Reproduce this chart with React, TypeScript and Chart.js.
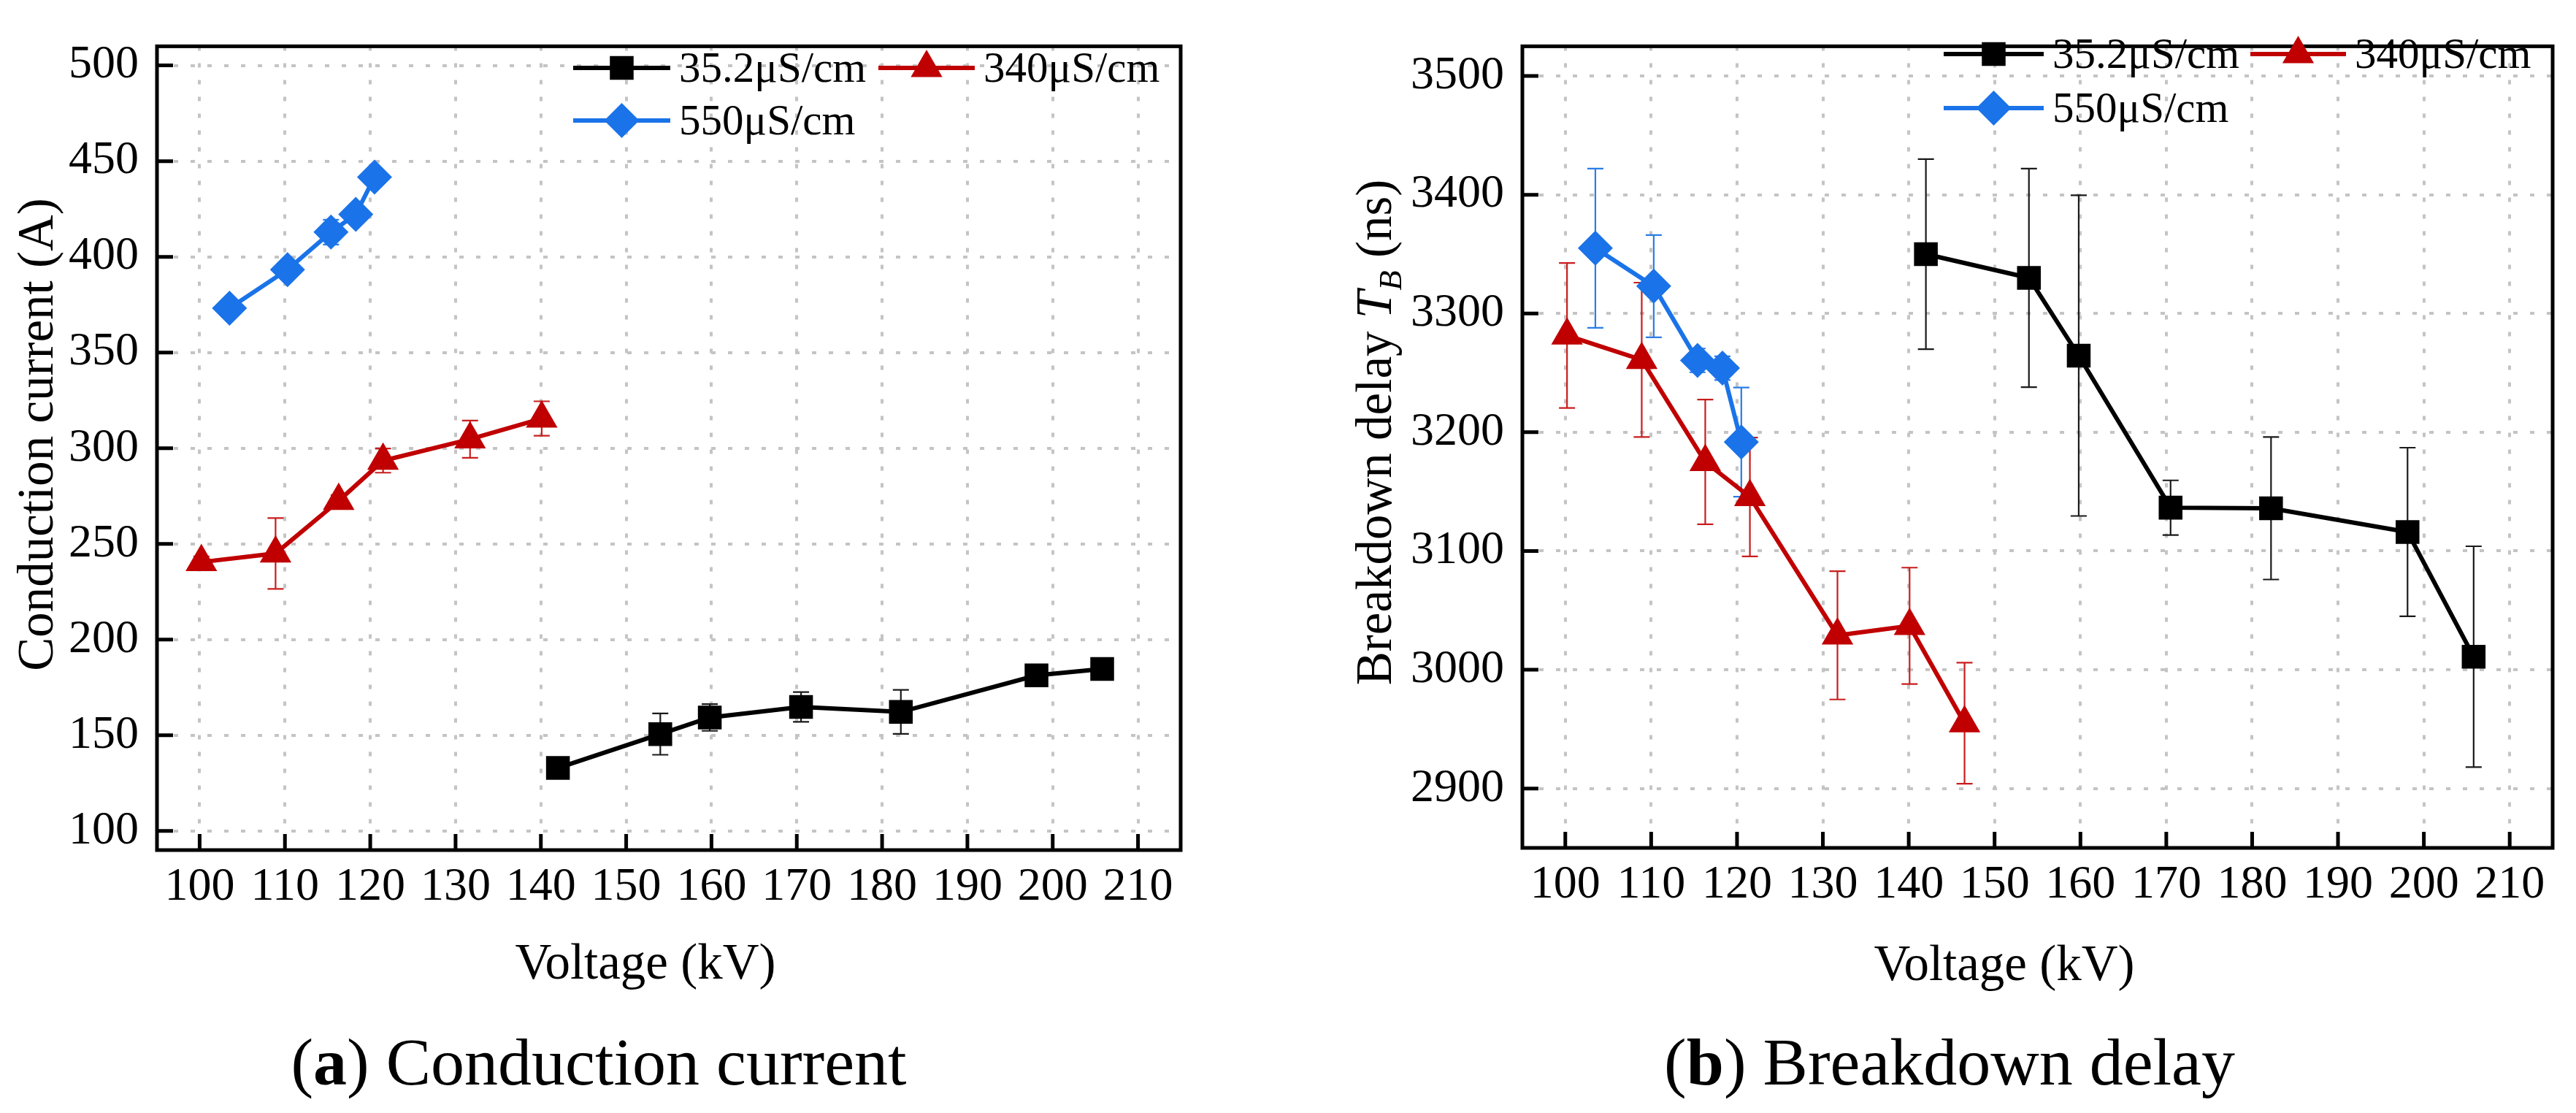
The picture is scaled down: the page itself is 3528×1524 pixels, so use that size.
import { useEffect, useRef } from "react"
import { Chart, registerables } from "chart.js"
import { drawPoint } from "chart.js/helpers"

Chart.register(...registerables)

const FONT = '"Liberation Serif", "Times New Roman", serif'
const GRID = "#c4c4c4"

// Voltage (kV) of each measured point
const volt35 = [142, 154, 159.8, 170.5, 182.2, 198.1, 205.8]
const volt340 = [100.2, 108.9, 116.3, 121.5, 131.7, 140.1, 146.5]
const volt550 = [103.5, 110.3, 115.4, 118.3, 120.5]

// (a) conduction current (A) and its error (±A)
const current35 = [132.9, 150.6, 159.3, 164.8, 162.2, 181.3, 184.6]
const currentErr35 = [3, 10.8, 7, 7.8, 11.5, 3, 3]
const current340 = [240.5, 245, 272.5, 293.5, 304.7, 315.5]
const currentErr340 = [3, 18.5, 3, 6.3, 9.7, 9]
const current550 = [373.2, 393.3, 412.9, 422.2, 441.7]
const currentErr550 = [3, 3, 6.5, 3, 3]

// (b) breakdown delay TB (ns) and its error (±ns)
const delay35 = [3350, 3330, 3264.5, 3136.5, 3136, 3116, 3011]
const delayErr35 = [80, 92, 135, 23, 60, 71, 93]
const delay340 = [3281.5, 3261, 3175, 3145.5, 3029, 3037, 2955]
const delayErr340 = [61, 65, 52.5, 50, 54, 49, 51]
const delay550 = [3355, 3323, 3260.5, 3254, 3191.7]
const delayErr550 = [67, 43, 10, 10, 46]

// axis ticks
const voltTicks = [100, 110, 120, 130, 140, 150, 160, 170, 180, 190, 200, 210]
const currentTicks = [100, 150, 200, 250, 300, 350, 400, 450, 500]
const delayTicks = [2900, 3000, 3100, 3200, 3300, 3400, 3500]

const seriesNames = ["35.2μS/cm", "340μS/cm", "550μS/cm"]
const seriesStyles = [
  { color: "#000000", errColor: "#1a1a1a", pointStyle: "rect", radius: 23 },
  { color: "#c00000", errColor: "#c81e1e", pointStyle: "triangle", radius: 25 },
  { color: "#1a73e8", errColor: "#2a7de8", pointStyle: "rectRot", radius: 24 },
]

type TitlePart = { text: string; italic?: boolean; sub?: boolean }

const TITLE_SIZE = 69

function partFont(p: TitlePart) {
  const size = p.sub ? Math.round(TITLE_SIZE * 0.65) : TITLE_SIZE
  return `${p.italic ? "italic " : ""}${size}px ${FONT}`
}

// draws error bars under the markers
const errorBarPlugin = {
  id: "errorBars",
  beforeDatasetsDraw(chart: any) {
    const { ctx } = chart
    const yScale = chart.scales.y
    chart.data.datasets.forEach((ds: any, i: number) => {
      if (!ds.errors) return
      const meta = chart.getDatasetMeta(i)
      ctx.save()
      ctx.strokeStyle = ds.errorColor
      ctx.lineWidth = 2.2
      meta.data.forEach((pt: any, j: number) => {
        const v = ds.data[j].y
        const e = ds.errors[j]
        const top = yScale.getPixelForValue(v + e)
        const bot = yScale.getPixelForValue(v - e)
        ctx.beginPath()
        ctx.moveTo(pt.x, top)
        ctx.lineTo(pt.x, bot)
        ctx.moveTo(pt.x - 11, top)
        ctx.lineTo(pt.x + 11, top)
        ctx.moveTo(pt.x - 11, bot)
        ctx.lineTo(pt.x + 11, bot)
        ctx.stroke()
      })
      ctx.restore()
    })
  },
}

// closed box with inward ticks on the bottom and left
const framePlugin = {
  id: "frame",
  afterDatasetsDraw(chart: any) {
    const { ctx, chartArea: a, scales } = chart
    ctx.save()
    ctx.strokeStyle = "#000"
    ctx.lineWidth = 5
    ctx.strokeRect(a.left, a.top, a.right - a.left, a.bottom - a.top)
    ctx.beginPath()
    scales.x.ticks.forEach((t: any) => {
      const px = scales.x.getPixelForValue(t.value)
      ctx.moveTo(px, a.bottom)
      ctx.lineTo(px, a.bottom - 22)
    })
    scales.y.ticks.forEach((t: any) => {
      const py = scales.y.getPixelForValue(t.value)
      ctx.moveTo(a.left, py)
      ctx.lineTo(a.left + 22, py)
    })
    ctx.stroke()
    ctx.restore()
  },
}

// legend with line + marker samples, and the axis titles
const decorPlugin = {
  id: "decor",
  afterDraw(chart: any) {
    const { ctx } = chart
    const opts = chart.options.plugins.decor
    ctx.save()
    ctx.fillStyle = "#000"

    opts.legend.forEach((item: any) => {
      const st = seriesStyles[item.s]
      ctx.strokeStyle = st.color
      ctx.lineWidth = 6
      ctx.beginPath()
      ctx.moveTo(item.x0, item.y)
      ctx.lineTo(item.x1, item.y)
      ctx.stroke()
      ctx.fillStyle = st.color
      drawPoint(ctx, { pointStyle: st.pointStyle, radius: st.radius, rotation: 0, borderWidth: 0 } as any, (item.x0 + item.x1) / 2, item.y)
      ctx.fillStyle = "#000"
      ctx.font = `59px ${FONT}`
      ctx.textAlign = "left"
      ctx.textBaseline = "middle"
      ctx.fillText(seriesNames[item.s], item.x1 + 12, item.y + 3)
    })

    // x title
    ctx.font = `${TITLE_SIZE}px ${FONT}`
    ctx.textAlign = "center"
    ctx.textBaseline = "alphabetic"
    ctx.fillText("Voltage (kV)", opts.xTitleX, opts.xTitleBase)

    // y title, rotated
    ctx.translate(opts.yTitleBase, opts.yTitleY)
    ctx.rotate(-Math.PI / 2)
    ctx.textAlign = "left"
    const parts: TitlePart[] = opts.yTitle
    const widths = parts.map((p) => {
      ctx.font = partFont(p)
      return ctx.measureText(p.text).width
    })
    let x = -widths.reduce((s, w) => s + w, 0) / 2
    parts.forEach((p, k) => {
      ctx.font = partFont(p)
      ctx.fillText(p.text, x, p.sub ? TITLE_SIZE * 0.2 : 0)
      x += widths[k]
    })
    ctx.restore()
  },
}

interface Panel {
  left: number
  yMin: number
  yMax: number
  yTicks: number[]
  xs: number[][]
  ys: number[][]
  errs: number[][]
  padTop: number
  padRight: number
  yAxisWidth: number
  xAxisHeight: number
  decor: any
}

const CANVAS_W = 1764
const CANVAS_H = 1400

function ChartPanel({ panel }: { panel: Panel }) {
  const chartRef = useRef<HTMLCanvasElement>(null)
  const chartInstance = useRef<Chart | null>(null)

  useEffect(() => {
    if (!chartRef.current) return
    if (chartInstance.current) chartInstance.current.destroy()
    const ctx = chartRef.current.getContext("2d")
    if (!ctx) return

    const datasets = panel.ys.map((ys, i) => {
      const st = seriesStyles[i]
      return {
        label: seriesNames[i],
        data: ys.map((y, j) => ({ x: panel.xs[i][j], y })),
        borderColor: st.color,
        backgroundColor: st.color,
        borderWidth: 6,
        pointStyle: st.pointStyle,
        pointRadius: st.radius,
        pointBackgroundColor: st.color,
        pointBorderColor: st.color,
        pointBorderWidth: 0,
        showLine: true,
        tension: 0,
        errors: panel.errs[i],
        errorColor: st.errColor,
      }
    })

    const tickFont = { family: FONT, size: 64 }

    chartInstance.current = new Chart(ctx, {
      type: "line",
      data: { datasets } as any,
      plugins: [errorBarPlugin, framePlugin, decorPlugin],
      options: {
        responsive: false,
        animation: false,
        devicePixelRatio: 1,
        events: [],
        layout: { padding: { top: panel.padTop, right: panel.padRight, left: 0, bottom: 0 } },
        scales: {
          x: {
            type: "linear",
            min: 95,
            max: 215,
            afterBuildTicks: (s: any) => {
              s.ticks = voltTicks.map((v) => ({ value: v }))
            },
            afterFit: (s: any) => {
              s.height = panel.xAxisHeight
            },
            grid: { color: GRID, lineWidth: 4, drawTicks: false },
            border: { display: false, dash: [6, 17] },
            ticks: {
              color: "#000",
              font: tickFont,
              padding: 13,
              maxRotation: 0,
              autoSkip: false,
              callback: (v: any) => String(v),
            },
          },
          y: {
            type: "linear",
            min: panel.yMin,
            max: panel.yMax,
            afterBuildTicks: (s: any) => {
              s.ticks = panel.yTicks.map((v) => ({ value: v }))
            },
            afterFit: (s: any) => {
              s.width = panel.yAxisWidth
            },
            grid: { color: GRID, lineWidth: 4, drawTicks: false },
            border: { display: false, dash: [6, 17] },
            ticks: {
              color: "#000",
              font: tickFont,
              padding: 25,
              autoSkip: false,
              callback: (v: any) => String(v),
            },
          },
        },
        plugins: {
          legend: { display: false },
          tooltip: { enabled: false },
          decor: panel.decor,
        } as any,
      },
    } as any)

    return () => {
      if (chartInstance.current) {
        chartInstance.current.destroy()
        chartInstance.current = null
      }
    }
  }, [panel])

  return (
    <div style={{ position: "absolute", left: panel.left, top: 0, width: CANVAS_W, height: CANVAS_H }}>
      <canvas ref={chartRef} width={CANVAS_W} height={CANVAS_H} style={{ width: CANVAS_W, height: CANVAS_H }} />
    </div>
  )
}

const panelA: Panel = {
  left: 0,
  yMin: 90,
  yMax: 510,
  yTicks: currentTicks,
  xs: [volt35, volt340.slice(0, current340.length), volt550],
  ys: [current35, current340, current550],
  errs: [currentErr35, currentErr340, currentErr550],
  padTop: 34,
  padRight: 147,
  yAxisWidth: 215,
  xAxisHeight: 236,
  decor: {
    legend: [
      { s: 0, x0: 785, x1: 918, y: 93 },
      { s: 1, x0: 1203, x1: 1335, y: 93 },
      { s: 2, x0: 785, x1: 918, y: 165 },
    ],
    xTitleX: 884,
    xTitleBase: 1340,
    yTitle: [{ text: "Conduction current (A)" }],
    yTitleBase: 72,
    yTitleY: 595,
  },
}

const panelB: Panel = {
  left: 1764,
  yMin: 2850,
  yMax: 3525,
  yTicks: delayTicks,
  xs: [volt35, volt340, volt550],
  ys: [delay35, delay340, delay550],
  errs: [delayErr35, delayErr340, delayErr550],
  padTop: 24,
  padRight: 32,
  yAxisWidth: 321,
  xAxisHeight: 239,
  decor: {
    legend: [
      { s: 0, x0: 898, x1: 1035, y: 74 },
      { s: 1, x0: 1318, x1: 1449, y: 74 },
      { s: 2, x0: 898, x1: 1035, y: 148 },
    ],
    xTitleX: 981,
    xTitleBase: 1342,
    yTitle: [
      { text: "Breakdown delay " },
      { text: "T", italic: true },
      { text: "B", italic: true, sub: true },
      { text: " (ns)" },
    ],
    yTitleBase: 141,
    yTitleY: 592,
  },
}

const captionStyle = {
  position: "absolute" as const,
  top: 1408,
  transform: "translateX(-50%)",
  font: `92px ${FONT}`,
  lineHeight: "1",
  whiteSpace: "nowrap" as const,
  color: "#000",
}

export default function App() {
  useEffect(() => {
    document.body.style.margin = "0"
  }, [])

  return (
    <div style={{ position: "relative", width: 3528, height: 1524, background: "#fff", overflow: "hidden" }}>
      <ChartPanel panel={panelA} />
      <ChartPanel panel={panelB} />
      <div style={{ ...captionStyle, left: 820 }}>
        (<b>a</b>) Conduction current
      </div>
      <div style={{ ...captionStyle, left: 2670 }}>
        (<b>b</b>) Breakdown delay
      </div>
    </div>
  )
}
